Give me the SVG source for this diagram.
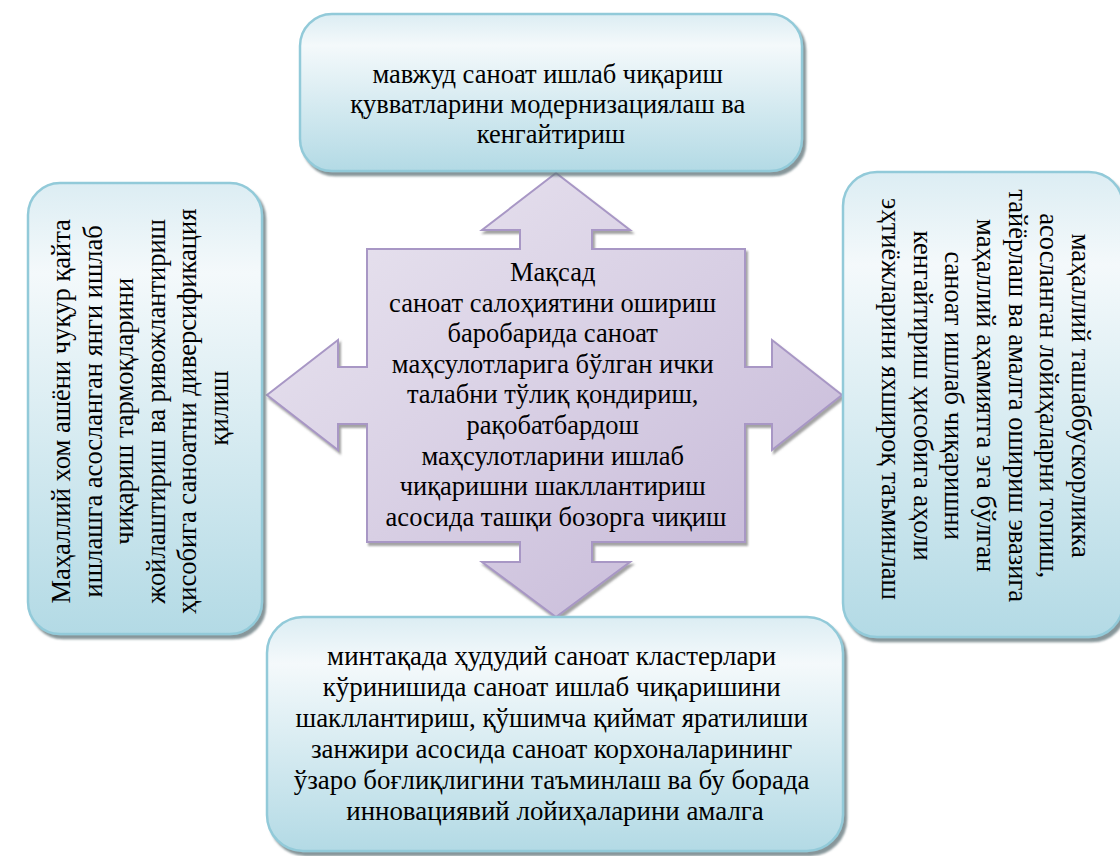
<svg xmlns="http://www.w3.org/2000/svg" width="1120" height="856" viewBox="0 0 1120 856">
<defs>
<linearGradient id="boxGrad" x1="0" y1="0" x2="0" y2="1">
<stop offset="0" stop-color="#dcedf3"/>
<stop offset="0.2" stop-color="#f4f9fb"/>
<stop offset="1" stop-color="#b3dae5"/>
</linearGradient>
<linearGradient id="arrowGrad" x1="0" y1="0" x2="1" y2="1">
<stop offset="0" stop-color="#ebe7f1"/>
<stop offset="0.5" stop-color="#d8cfe4"/>
<stop offset="1" stop-color="#c3b5d6"/>
</linearGradient>
<filter id="boxShadow" x="-5%" y="-5%" width="112%" height="115%">
<feDropShadow dx="3" dy="4" stdDeviation="1.2" flood-color="#5f7378" flood-opacity="0.75"/>
</filter>
<filter id="arrowShadow" x="-5%" y="-5%" width="112%" height="112%">
<feDropShadow dx="2" dy="3" stdDeviation="1" flood-color="#666666" flood-opacity="0.6"/>
</filter>
</defs>
<style>
.box { fill: url(#boxGrad); stroke: #92cad9; stroke-width: 2.5; filter: url(#boxShadow); }
.arrow { fill: url(#arrowGrad); stroke: #a897c5; stroke-width: 2; filter: url(#arrowShadow); }
.t { font-family: "Liberation Serif", "Times New Roman", serif; font-size: 26.5px; fill: #000; text-anchor: middle; }
.tb { font-size: 26.9px; }
</style>
<rect width="1120" height="856" fill="#ffffff"/>
<g id="connectors"></g>
<g id="node-center">
<path class="arrow" d="M 556 173 L 630 230 L 592 230 L 592 249 L 745 249 L 745 367 L 772 367 L 772 340 L 842 395 L 772 450 L 772 424 L 745 424 L 745 542 L 592 542 L 592 562 L 630 562 L 556 617 L 482 562 L 520 562 L 520 542 L 367 542 L 367 424 L 338 424 L 338 450 L 267 395 L 338 340 L 338 367 L 367 367 L 367 249 L 520 249 L 520 230 L 482 230 Z"/>
<text class="t" x="556" y="281">
<tspan x="556" dy="0">Мақсад</tspan>
<tspan x="556" dy="30.6">саноат салоҳиятини ошириш</tspan>
<tspan x="556" dy="30.6">баробарида саноат</tspan>
<tspan x="556" dy="30.6">маҳсулотларига бўлган ички</tspan>
<tspan x="556" dy="30.6">талабни тўлиқ қондириш,</tspan>
<tspan x="556" dy="30.6">рақобатбардош</tspan>
<tspan x="556" dy="30.6">маҳсулотларини ишлаб</tspan>
<tspan x="556" dy="30.6">чиқаришни шакллантириш</tspan>
<tspan x="556" dy="30.6">асосида ташқи бозорга чиқиш</tspan>
</text>
</g>
<g id="node-top">
<rect class="box" x="300" y="14" width="502" height="157" rx="32" ry="32"/>
<text class="t" x="551" y="83">
<tspan x="551" dy="0">мавжуд саноат ишлаб чиқариш</tspan>
<tspan x="551" dy="30">қувватларини модернизациялаш ва</tspan>
<tspan x="551" dy="30">кенгайтириш</tspan>
</text>
</g>
<g id="node-left">
<rect class="box" x="28" y="183" width="234" height="451" rx="32" ry="32"/>
<text class="t" transform="translate(70 408) rotate(-90)">
<tspan x="0" dy="0">Маҳаллий хом ашёни чуқур қайта</tspan>
<tspan x="0" dy="31.6">ишлашга асосланган янги ишлаб</tspan>
<tspan x="0" dy="31.6">чиқариш тармоқларини</tspan>
<tspan x="0" dy="31.6">жойлаштириш ва ривожлантириш</tspan>
<tspan x="0" dy="31.6">ҳисобига саноатни диверсификация</tspan>
<tspan x="0" dy="31.6">қилиш</tspan>
</text>
</g>
<g id="node-right">
<rect class="box" x="843" y="172" width="280" height="465" rx="34" ry="34"/>
<text class="t" transform="translate(1072 399) rotate(90)">
<tspan x="0" dy="0">маҳаллий ташаббускорликка</tspan>
<tspan x="0" dy="31.7">асосланган лойиҳаларни топиш,</tspan>
<tspan x="0" dy="31.7">тайёрлаш ва амалга ошириш эвазига</tspan>
<tspan x="0" dy="31.7">маҳаллий аҳамиятга эга бўлган</tspan>
<tspan x="0" dy="31.7">саноат ишлаб чиқаришни</tspan>
<tspan x="0" dy="31.7">кенгайтириш ҳисобига аҳоли</tspan>
<tspan x="0" dy="31.7">эҳтиёжларини яхшироқ таъминлаш</tspan>
</text>
</g>
<g id="node-bottom">
<rect class="box" x="267" y="617" width="576" height="234" rx="36" ry="36"/>
<text class="t tb" x="555" y="665">
<tspan x="555" dy="0">минтақада ҳудудий саноат кластерлари</tspan>
<tspan x="555" dy="31">кўринишида саноат ишлаб чиқаришини</tspan>
<tspan x="555" dy="31">шакллантириш, қўшимча қиймат яратилиши</tspan>
<tspan x="555" dy="31">занжири асосида саноат корхоналарининг</tspan>
<tspan x="555" dy="31">ўзаро боғлиқлигини таъминлаш ва бу борада</tspan>
<tspan x="555" dy="31">инновациявий лойиҳаларини амалга</tspan>
</text>
</g>
</svg>
